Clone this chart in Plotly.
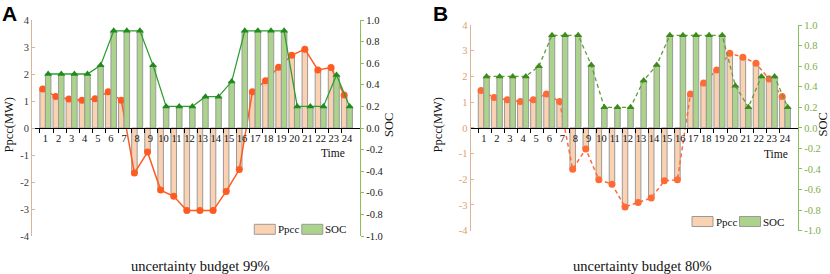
import plotly.graph_objects as go

# ---------------- data ----------------
hours = list(range(1, 25))
hour_labels = [str(h) for h in hours]

ppcc_99 = [1.44, 1.17, 1.07, 1.03, 1.08, 1.34, 1.03, -1.67, -0.89, -2.30, -2.53, -3.06,
           -3.06, -3.06, -2.35, -1.54, 1.34, 1.75, 2.25, 2.69, 2.92, 2.15, 2.24, 1.22]
soc_99 = [0.50, 0.50, 0.50, 0.50, 0.58, 0.90, 0.90, 0.90, 0.58, 0.20, 0.20, 0.20,
          0.29, 0.29, 0.43, 0.90, 0.90, 0.90, 0.90, 0.20, 0.20, 0.20, 0.49, 0.20]

ppcc_80 = [1.45, 1.18, 1.09, 1.02, 1.09, 1.32, 1.02, -1.61, -0.82, -2.02, -2.19, -3.08,
           -2.90, -2.73, -2.06, -2.02, 1.32, 1.74, 2.25, 2.90, 2.75, 2.51, 1.90, 1.22]
soc_80 = [0.50, 0.50, 0.50, 0.50, 0.60, 0.90, 0.90, 0.90, 0.61, 0.20, 0.20, 0.20,
          0.46, 0.61, 0.90, 0.90, 0.90, 0.90, 0.90, 0.41, 0.20, 0.50, 0.50, 0.20]

p_ticks = [-4, -3, -2, -1, 0, 1, 2, 3, 4]
p_ticktext = ["-4", "-3", "-2", "-1", "0", "1", "2", "3", "4"]
soc_ticks = [-1.0, -0.8, -0.6, -0.4, -0.2, 0.0, 0.2, 0.4, 0.6, 0.8, 1.0]
soc_ticktext = ["-1.0", "-0.8", "-0.6", "-0.4", "-0.2", "0.0", "0.2", "0.4", "0.6", "0.8", "1.0"]

titles = ["uncertainty budget 99%", "uncertainty budget 80%"]
panel_letters = ["A", "B"]

# ---------------- style ----------------
W, H = 830, 274
SERIF = "Liberation Serif, Times New Roman, serif"
BAR_W = 0.42
PPCC_FILL = "#FAD2B2"
SOC_FILL = "#ACD38C"
BAR_EDGE = "#9a9a9a"
TAN = "#DDB393"
GREEN_AX = "#8DBE5A"


def px(x):
    return x / W


def py(y):
    return 1 - y / H


fig = go.Figure()

panels = [
    dict(ppcc=ppcc_99, soc=soc_99, xa="x", ya="y", ya2="y2", dash="solid",
         pcol="#FF5A1F", scol="#2E9E2E", smark="#1F8A1F"),
    dict(ppcc=ppcc_80, soc=soc_80, xa="x2", ya="y3", ya2="y4", dash="4px,3px",
         pcol="#FF6A35", scol="#5E9E35", smark="#3D8C1A"),
]

for p in panels:
    fig.add_trace(go.Bar(x=hours, y=p["ppcc"], xaxis=p["xa"], yaxis=p["ya"],
                         offset=-BAR_W, width=BAR_W, name="Ppcc",
                         marker=dict(color=PPCC_FILL, line=dict(color=BAR_EDGE, width=1)),
                         showlegend=False))
    fig.add_trace(go.Bar(x=hours, y=p["soc"], xaxis=p["xa"], yaxis=p["ya2"],
                         offset=0, width=BAR_W, name="SOC",
                         marker=dict(color=SOC_FILL, line=dict(color=BAR_EDGE, width=1)),
                         showlegend=False))
    fig.add_trace(go.Scatter(x=[h - BAR_W / 2 for h in hours], y=p["ppcc"],
                             xaxis=p["xa"], yaxis=p["ya"], mode="lines+markers",
                             line=dict(color=p["pcol"], width=1.5, dash=p["dash"]),
                             marker=dict(symbol="circle", size=7, color=p["pcol"]),
                             showlegend=False))
    fig.add_trace(go.Scatter(x=[h + BAR_W / 2 for h in hours], y=p["soc"],
                             xaxis=p["xa"], yaxis=p["ya2"], mode="lines+markers",
                             line=dict(color=p["scol"], width=1.3, dash=p["dash"]),
                             marker=dict(symbol="triangle-up", size=7, color=p["smark"]),
                             showlegend=False))

minor_ticks = [h - BAR_W for h in hours]


def xaxis_cfg(domain, zero_pos):
    return dict(domain=domain, range=[0, 25], anchor="free", position=zero_pos,
                tickvals=hours, ticktext=hour_labels, ticks="",
                showline=True, linecolor="#000000", linewidth=1,
                showgrid=False, zeroline=False,
                tickfont=dict(family=SERIF, size=10.5, color="#111111"),
                minor=dict(tickvals=minor_ticks, ticks="outside", ticklen=4,
                           tickcolor="#000000", showgrid=False),
                automargin=False, fixedrange=True)


def yleft_cfg(domain, anchor, labelcol):
    return dict(domain=domain, range=[-4, 4], anchor=anchor,
                tickvals=p_ticks, ticktext=p_ticktext,
                showline=True, linecolor=TAN, linewidth=1.3,
                ticks="inside", ticklen=3, tickcolor=TAN,
                showgrid=False, zeroline=False,
                tickfont=dict(family=SERIF, size=10.5, color=labelcol),
                automargin=False, fixedrange=True)


def yright_cfg(overlay, anchor, labelcol):
    return dict(overlaying=overlay, side="right", anchor=anchor, range=[-1, 1],
                tickvals=soc_ticks, ticktext=soc_ticktext,
                showline=True, linecolor=GREEN_AX, linewidth=1.3,
                ticks="outside", ticklen=3, tickcolor=GREEN_AX,
                showgrid=False, zeroline=False,
                tickfont=dict(family=SERIF, size=10.5, color=labelcol),
                automargin=False, fixedrange=True)


zero_y = py(128)
fig.update_layout(
    width=W, height=H,
    margin=dict(l=0, r=0, t=0, b=0),
    paper_bgcolor="white", plot_bgcolor="rgba(0,0,0,0)",
    barmode="overlay",
    xaxis=xaxis_cfg([px(32.3), px(360)], zero_y),
    xaxis2=xaxis_cfg([px(470.7), px(798)], zero_y),
    yaxis=yleft_cfg([py(236), py(20)], "x", "#3a3a3a"),
    yaxis2=yright_cfg("y", "x", "#222222"),
    yaxis3=yleft_cfg([py(230.7), py(25)], "x2", "#E0A070"),
    yaxis4=yright_cfg("y3", "x2", "#7CAE4A"),
)

annotations = []
shapes = []

# panel decorations (pixel positions)
deco = [
    dict(letter_x=9, letter_y=13.5, ytitle_x=9, soc_x=389, time_x=333, time_y=153,
         title_x=200, leg_x=254.3, leg_y=229.3),
    dict(letter_x=440, letter_y=13.5, ytitle_x=438, soc_x=822.5, time_x=776, time_y=154,
         title_x=642, leg_x=692, leg_y=221.5),
]
for i, d in enumerate(deco):
    annotations.append(dict(x=px(d["letter_x"]), y=py(d["letter_y"]), xref="paper", yref="paper",
                            text="<b>%s</b>" % panel_letters[i], showarrow=False,
                            font=dict(family="Liberation Sans, Arial, sans-serif", size=21,
                                      color="#000000"),
                            xanchor="center", yanchor="middle", borderpad=0))
    annotations.append(dict(x=px(d["ytitle_x"]), y=py(124.5), xref="paper", yref="paper",
                            text="Ppcc(MW)", textangle=-90, showarrow=False,
                            font=dict(family=SERIF, size=12.5, color="#111111"),
                            xanchor="center", yanchor="middle"))
    annotations.append(dict(x=px(d["soc_x"]), y=py(125), xref="paper", yref="paper",
                            text="SOC", textangle=-90, showarrow=False,
                            font=dict(family=SERIF, size=12.5, color="#111111"),
                            xanchor="center", yanchor="middle", borderpad=0))
    annotations.append(dict(x=px(d["time_x"]), y=py(d["time_y"]), xref="paper", yref="paper",
                            text="Time", showarrow=False,
                            font=dict(family=SERIF, size=11.5, color="#111111"),
                            xanchor="center", yanchor="middle"))
    annotations.append(dict(x=px(d["title_x"]), y=py(266), xref="paper", yref="paper",
                            text=titles[i], showarrow=False,
                            font=dict(family=SERIF, size=14.5, color="#111111"),
                            xanchor="center", yanchor="middle", borderpad=0))
    # legend
    lx, ly = d["leg_x"], d["leg_y"]
    for k, (name, fill) in enumerate([("Ppcc", PPCC_FILL), ("SOC", SOC_FILL)]):
        bx = lx + k * 47.5
        shapes.append(dict(type="rect", xref="paper", yref="paper", layer="below",
                           x0=px(bx), x1=px(bx + 21), y0=py(ly + 5), y1=py(ly - 5),
                           fillcolor=fill, line=dict(color=BAR_EDGE, width=1)))
        annotations.append(dict(x=px(bx + 22.5), y=py(ly), xref="paper", yref="paper",
                                text=name, showarrow=False, borderpad=0,
                                font=dict(family=SERIF, size=11, color="#111111"),
                                xanchor="left", yanchor="middle"))

fig.update_layout(annotations=annotations, shapes=shapes)

fig.write_html("out.html", config={"displayModeBar": False},
               post_script="document.body.style.margin='0';document.body.style.padding='0';")
